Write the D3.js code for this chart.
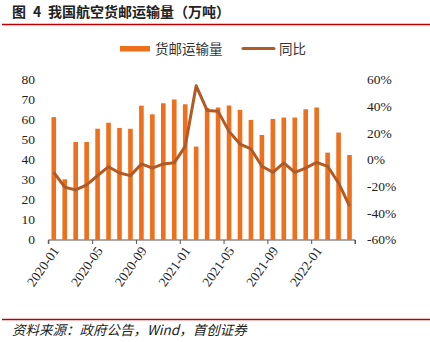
<!DOCTYPE html>
<html><head><meta charset="utf-8">
<script src="https://cdn.jsdelivr.net/npm/d3@7"></script>
<style>
html,body{margin:0;padding:0;background:#fff;}
svg{display:block;}
</style></head>
<body><svg id="c" width="430" height="342"></svg>
<script>
const months = ["2020-01","2020-02","2020-03","2020-04","2020-05","2020-06","2020-07","2020-08","2020-09","2020-10","2020-11","2020-12",
"2021-01","2021-02","2021-03","2021-04","2021-05","2021-06","2021-07","2021-08","2021-09","2021-10","2021-11","2021-12",
"2022-01","2022-02","2022-03","2022-04"];
const volume = [61,30,48.6,48.6,55.2,58.2,55.6,55.2,66.7,62.4,67.9,69.8,67.4,46.3,65.5,65.8,66.8,64.6,59.6,52.1,60.1,60.8,60.8,64.9,65.8,43.3,53.3,42.1];
const yoy = [-9.6,-20.8,-22.8,-19.1,-12.1,-5.4,-10.1,-12.1,-3.3,-6.4,-3.3,-2.4,9.9,55.3,36.8,36.1,21.1,11.6,7.9,-5.1,-9.6,-2.6,-9.6,-6.4,-2.1,-5.1,-17.6,-35.0];
const leftTicks = [0,10,20,30,40,50,60,70,80];
const rightTicks = [-60,-40,-20,0,20,40,60];
const xTickIdx = [0,4,8,12,16,20,24];

const svg = d3.select("#c");
const barColor = "#EE6F1C", lineColor = "#B05A25", red = "#C00000";
const serif = "'Liberation Serif','Times New Roman',serif";
const cjk = "'Noto Sans CJK SC','Noto Sans',sans-serif";

// title
const title = svg.append("text").attr("y",17).attr("font-family",cjk).attr("font-size",14).attr("font-weight","bold").attr("fill","#222");
title.append("tspan").attr("x",12).text("图");
title.append("tspan").attr("x",33).text("4");
title.append("tspan").attr("x",48).text("我国航空货邮运输量（万吨）");
svg.append("line").attr("x1",2).attr("x2",430).attr("y1",24.5).attr("y2",24.5).attr("stroke",red).attr("stroke-width",1.5);
svg.append("line").attr("x1",2).attr("x2",430).attr("y1",319.5).attr("y2",319.5).attr("stroke",red).attr("stroke-width",1.5);
svg.append("text").attr("x",12).attr("y",335).attr("font-family",cjk).attr("font-size",13.5).attr("font-style","italic").attr("fill","#222")
  .text("资料来源：政府公告，Wind，首创证券");

// legend
svg.append("rect").attr("x",120).attr("y",46).attr("width",30).attr("height",5.5).attr("fill",barColor);
svg.append("text").attr("x",155).attr("y",53.5).attr("font-family",cjk).attr("font-size",13.5).attr("fill","#333").text("货邮运输量");
svg.append("line").attr("x1",243).attr("x2",274).attr("y1",48.5).attr("y2",48.5).attr("stroke",lineColor).attr("stroke-width",3).attr("stroke-linecap","round");
svg.append("text").attr("x",279).attr("y",53.5).attr("font-family",cjk).attr("font-size",13.5).attr("fill","#333").text("同比");

// scales
const x0 = 48.3, x1 = 355;
const xBand = d3.scaleBand().domain(months).range([x0,x1]).paddingInner(0).paddingOuter(0);
const xLin = d3.scaleLinear().domain([0,months.length]).range([x0,x1]);
const yL = d3.scaleLinear().domain([0,80]).range([239.5,79]);
const yR = d3.scaleLinear().domain([-60,60]).range([239.5,79.5]);

// bars
const bw = 4.6;
svg.append("g").selectAll("rect").data(volume).join("rect")
  .attr("x",(d,i)=>xBand(months[i])+xBand.bandwidth()/2-bw/2)
  .attr("width",bw)
  .attr("y",d=>yL(d)).attr("height",d=>yL(0)-yL(d))
  .attr("fill",barColor);

// line
const line = d3.line().x((d,i)=>xBand(months[i])+xBand.bandwidth()/2).y(d=>yR(d));
svg.append("path").datum(yoy).attr("d",line).attr("fill","none").attr("stroke",lineColor).attr("stroke-width",3).attr("stroke-linejoin","round");

// left axis
const gl = svg.append("g").attr("transform","translate(38,0)")
  .call(d3.axisLeft(yL).tickValues(leftTicks).tickSize(0).tickPadding(3));
gl.select(".domain").remove();
gl.selectAll("text").attr("font-family",serif).attr("font-size",13.5).attr("fill","#222");

// right axis
const gr = svg.append("g").attr("transform","translate(364,0)")
  .call(d3.axisRight(yR).tickValues(rightTicks).tickSize(0).tickPadding(3).tickFormat(d=>d+"%"));
gr.select(".domain").remove();
gr.selectAll("text").attr("font-family",serif).attr("font-size",13.5).attr("fill","#222");

// bottom axis
const gx = svg.append("g").attr("transform","translate(0,240)")
  .call(d3.axisBottom(xLin).tickValues(xTickIdx.concat([months.length])).tickSize(4).tickFormat(d=>d<months.length?months[d]:""));
gx.select(".domain").attr("stroke","#555").attr("d",`M${x0},4V0H${x1}V4`);
gx.selectAll(".tick line").attr("stroke","#555");
gx.selectAll("text").attr("font-family",serif).attr("font-size",13.5).attr("fill","#222")
  .attr("text-anchor","end").attr("dy","0.35em")
  .attr("transform","translate(7,8) rotate(-55)").attr("y",0).attr("x",0);
</script>
</body></html>
